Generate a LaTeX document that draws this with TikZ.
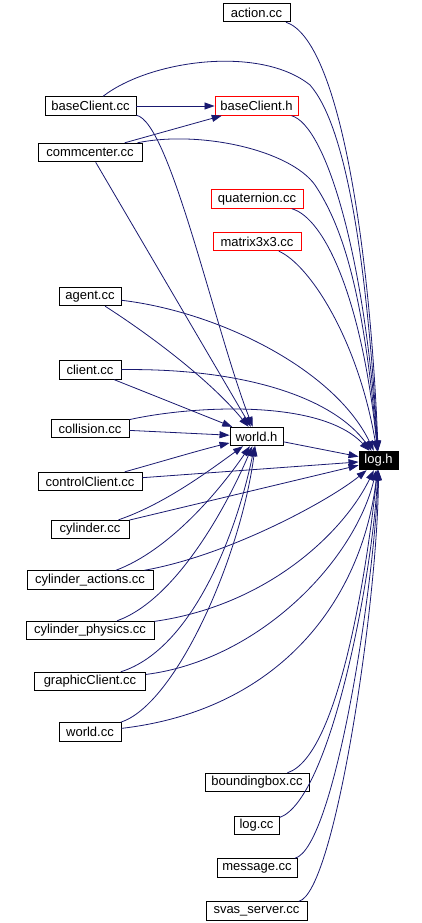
\documentclass[tikz,border=0pt]{standalone}
\usepackage{fontspec}
\setmainfont{Liberation Sans}
\usetikzlibrary{arrows.meta}
\definecolor{edgeblue}{HTML}{191970}
\begin{document}
\begin{tikzpicture}[x=1pt,y=-1pt,
  fbox/.style={draw=black,fill=white,line width=0.9pt,minimum height=18.5pt,inner xsep=0pt,inner ysep=0pt,font=\fontsize{13}{14}\selectfont,text=black},
  redbox/.style={fbox,draw=red},
  rootbox/.style={fbox,fill=black,text=white},
  dep/.style={draw=edgeblue,line width=0.8pt,-{Triangle[length=10pt,width=7pt]}}]
\useasboundingbox (0,0) rectangle (422,923);
% nodes
\node[fbox,minimum width=67pt] (action) at (256.5,12.5) {action.cc};
\node[fbox,minimum width=91pt] (bcc) at (90.5,106) {baseClient.cc};
\node[redbox,minimum width=83pt] (bch) at (256.5,106) {baseClient.h};
\node[fbox,minimum width=104pt] (comm) at (90,152.5) {commcenter.cc};
\node[redbox,minimum width=92pt] (quat) at (257,199) {quaternion.cc};
\node[redbox,minimum width=88pt] (mat) at (257,241.5) {matrix3x3.cc};
\node[fbox,minimum width=62pt] (agent) at (90,296.5) {agent.cc};
\node[fbox,minimum width=62pt] (client) at (90,370) {client.cc};
\node[fbox,minimum width=78pt] (coll) at (90,428.5) {collision.cc};
\node[fbox,minimum width=53pt] (world) at (256.5,436.5) {world.h};
\node[rootbox,minimum width=39pt] (log) at (378.5,460.5) {log.h};
\node[fbox,minimum width=104pt] (ctrl) at (90,481.5) {controlClient.cc};
\node[fbox,minimum width=78pt] (cyl) at (90,529.5) {cylinder.cc};
\node[fbox,minimum width=126pt] (cyla) at (90,580) {cylinder\_actions.cc};
\node[fbox,minimum width=128pt] (cylp) at (90,630.5) {cylinder\_physics.cc};
\node[fbox,minimum width=111pt] (gc) at (90,681.5) {graphicClient.cc};
\node[fbox,minimum width=62pt] (wcc) at (90,732) {world.cc};
\node[fbox,minimum width=104pt] (bb) at (257,782.5) {boundingbox.cc};
\node[fbox,minimum width=45pt] (logcc) at (256.5,825.5) {log.cc};
\node[fbox,minimum width=80pt] (msg) at (257,868) {message.cc};
\node[fbox,minimum width=101pt] (svas) at (256.5,911) {svas\_server.cc};
% edges to log.h (from above)
\draw[dep] (action) .. controls (340,40) and (370,250) .. (log);
\draw[dep] (bcc) .. controls (150,60) and (260,45) .. (310,85) .. controls (345,125) and (366,250) .. (log);
\draw[dep] (bch) .. controls (325,125) and (364,250) .. (log);
\draw[dep] (comm) .. controls (200,130) and (290,150) .. (315,185) .. controls (345,230) and (364,300) .. (log);
\draw[dep] (quat) .. controls (325,218) and (362,300) .. (log);
\draw[dep] (mat) .. controls (310,265) and (358,340) .. (log);
\draw[dep] (agent) .. controls (220,312) and (335,370) .. (log);
\draw[dep] (client) .. controls (250,368) and (335,400) .. (log);
\draw[dep] (coll) .. controls (190,406) and (320,398) .. (log);
\draw[dep] (world) -- (log);
\draw[dep] (ctrl) -- (log);
% edges to log.h (from below)
\draw[dep] (cyl) -- (log);
\draw[dep] (cyla) .. controls (230,555) and (330,500) .. (log);
\draw[dep] (cylp) .. controls (270,605) and (345,530) .. (log);
\draw[dep] (gc) .. controls (260,660) and (355,560) .. (log);
\draw[dep] (wcc) .. controls (280,710) and (362,600) .. (log);
\draw[dep] (bb) .. controls (340,756) and (368,560) .. (log);
\draw[dep] (logcc) .. controls (330,800) and (372,580) .. (log);
\draw[dep] (msg) .. controls (335,848) and (375,580) .. (log);
\draw[dep] (svas) .. controls (335,893) and (378,600) .. (log);
% edges to world.h
\draw[dep] (bcc) .. controls (170,122) and (215,330) .. (world);
\draw[dep] (comm) -- (world);
\draw[dep] (agent) .. controls (150,335) and (210,380) .. (world);
\draw[dep] (client) -- (world);
\draw[dep] (coll) -- (world);
\draw[dep] (ctrl) .. controls (160,462) and (200,450) .. (world);
\draw[dep] (cyl) .. controls (165,504) and (210,470) .. (world);
\draw[dep] (cyla) .. controls (170,550) and (220,490) .. (world);
\draw[dep] (cylp) .. controls (175,600) and (225,510) .. (world);
\draw[dep] (gc) .. controls (190,650) and (235,540) .. (world);
\draw[dep] (wcc) .. controls (175,705) and (240,560) .. (world);
% edges to baseClient.h
\draw[dep] (bcc) -- (bch);
\draw[dep] (comm) -- (bch);
\end{tikzpicture}
\end{document}
